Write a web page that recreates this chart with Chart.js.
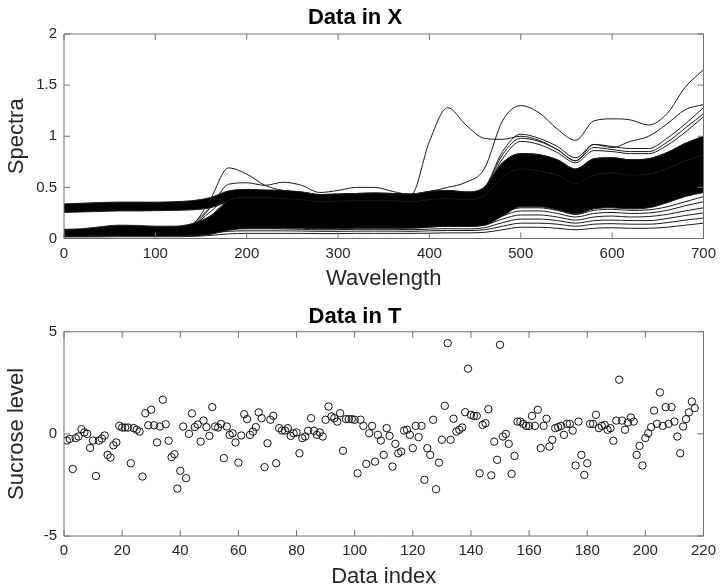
<!DOCTYPE html>
<html>
<head>
<meta charset="utf-8">
<title>Data in X / Data in T</title>
<script src="https://cdn.jsdelivr.net/npm/chart.js@4.4.1/dist/chart.umd.min.js"></script>
<style>
    html, body { margin: 0; padding: 0; background: #fff; }
    #wrap { position: relative; width: 722px; height: 588px; }
    canvas { position: absolute; left: 0; }
    #spectraChart { top: 0; }
    #sucroseChart { top: 295px; }
</style>
</head>
<body>
<div id="wrap">
    <canvas id="spectraChart" width="722" height="295"></canvas>
    <canvas id="sucroseChart" width="722" height="293"></canvas>
</div>
<script>
// wavelength grid of the spectra (read every 20 units)
const wavelengths = [0, 20, 40, 60, 80, 100, 120, 140, 160, 180, 200, 220, 240, 260, 280, 300, 320, 340,
    360, 380, 400, 420, 440, 460, 480, 500, 520, 540, 560, 580, 600, 620, 640, 660, 680, 700];

// edges of the dense bundle of spectra
const bandLow = [.02, .02, .022, .025, .025, .025, .025, .027, .04, .08, .10, .10, .10, .10, .095, .095, .10, .10,
    .10, .10, .11, .12, .12, .13, .22, .31, .31, .28, .24, .29, .30, .29, .30, .35, .41, .45];
const lowerTop = [.09, .095, .115, .13, .128, .12, .12, .145, .22, .37, .40, .40, .39, .38, .36, .365, .37, .37,
    .37, .36, .38, .39, .38, .42, .60, .68, .66, .62, .54, .62, .64, .62, .63, .68, .76, .82];
const upperLow = [.255, .26, .265, .27, .27, .272, .275, .28, .30, .36, .38, .38, .375, .37, .35, .355, .36, .36,
    .36, .355, .37, .38, .37, .40, .55, .62, .60, .55, .48, .55, .57, .55, .56, .60, .66, .72];
const bandTop = [.338, .345, .352, .356, .356, .355, .36, .37, .40, .465, .48, .475, .47, .455, .43, .435, .44, .445,
    .44, .435, .46, .47, .455, .50, .74, .83, .82, .77, .68, .78, .79, .77, .78, .84, .93, 1.0];

// single spectra below the bundle
const stripe1 = [.015, .015, .016, .018, .018, .018, .018, .02, .03, .045, .05, .05, .05, .05, .048, .048, .05, .05,
    .05, .05, .052, .055, .055, .06, .085, .11, .11, .10, .085, .10, .105, .10, .10, .11, .13, .15];
const stripe2 = [.03, .03, .035, .04, .04, .04, .04, .045, .055, .07, .075, .075, .075, .073, .07, .07, .072, .072,
    .072, .07, .075, .078, .078, .085, .12, .15, .15, .14, .12, .14, .145, .14, .14, .155, .18, .20];
const stripe3 = [.04, .04, .045, .05, .05, .05, .05, .055, .07, .09, .095, .095, .094, .09, .085, .086, .09, .09,
    .09, .086, .092, .096, .094, .105, .155, .19, .19, .175, .15, .175, .18, .175, .175, .195, .225, .25];
const stripe4 = [.05, .05, .055, .06, .06, .06, .06, .065, .08, .11, .12, .12, .115, .11, .105, .106, .11, .11,
    .11, .106, .115, .12, .117, .13, .19, .23, .23, .21, .18, .21, .22, .21, .215, .235, .27, .30];
const stripe5 = [.06, .06, .065, .07, .07, .07, .07, .075, .09, .13, .14, .14, .135, .13, .122, .125, .13, .13,
    .13, .125, .135, .14, .135, .15, .22, .27, .27, .245, .21, .245, .255, .245, .25, .275, .32, .36];
const stripe6 = [.07, .07, .075, .08, .08, .08, .08, .085, .10, .15, .16, .16, .155, .15, .14, .145, .15, .15,
    .15, .145, .155, .16, .155, .175, .25, .30, .30, .275, .235, .275, .285, .275, .28, .31, .36, .41];

// spectra crossing the gap near 160
const cross1 = [.06, .06, .07, .09, .09, .09, .10, .14, .30, .42, .44, .44, .435, .425, .40, .405, .41, .41,
    .41, .40, .42, .43, .42, .46, .68, .76, .75, .71, .62, .71, .73, .71, .72, .78, .86, .93];
const cross2 = [.05, .05, .06, .08, .08, .08, .09, .12, .26, .40, .42, .42, .415, .405, .38, .385, .39, .39,
    .39, .38, .40, .41, .40, .44, .64, .72, .71, .67, .58, .67, .69, .67, .68, .73, .81, .88];

// spectra standing out above the bundle
const peak180 = [.05, .05, .06, .08, .08, .08, .09, .13, .38, .69, .63, .52, .47, .455, .43, .435, .44, .445,
    .44, .435, .46, .47, .455, .50, .74, .83, .82, .77, .68, .78, .79, .77, .78, .84, .93, 1.0];
const peak420 = [.07, .07, .08, .10, .10, .10, .11, .13, .30, .53, .545, .52, .55, .52, .45, .47, .50, .50,
    .46, .43, .95, 1.28, 1.11, .98, .97, 1.0, .96, .87, .76, .92, .89, .95, 1.0, 1.12, 1.26, 1.31];
const peak500 = [.32, .325, .33, .335, .335, .335, .34, .35, .38, .45, .47, .465, .46, .45, .425, .43, .435, .44,
    .435, .43, .46, .50, .55, .68, 1.15, 1.30, 1.23, 1.07, .96, 1.15, 1.17, 1.16, 1.11, 1.22, 1.48, 1.65];
const rise1 = [.33, .335, .34, .345, .345, .345, .35, .36, .39, .46, .475, .47, .465, .45, .425, .43, .435, .44,
    .435, .43, .455, .465, .45, .50, .85, 1.02, .98, .90, .79, .92, .90, .88, .88, .98, 1.12, 1.28];
const rise2 = [.32, .325, .33, .335, .335, .335, .34, .35, .385, .455, .47, .465, .46, .445, .42, .425, .43, .435,
    .43, .425, .45, .46, .445, .49, .82, .98, .95, .87, .76, .89, .87, .85, .85, .94, 1.08, 1.22];
const rise3 = [.31, .315, .32, .325, .325, .325, .33, .34, .38, .45, .465, .46, .455, .44, .415, .42, .425, .43,
    .425, .42, .445, .455, .44, .48, .78, .95, .92, .84, .74, .86, .85, .83, .83, .91, 1.04, 1.19];

// sucrose level for each sample (data index 1..217)
const sucrose = [
    -0.33, -0.25, -1.72, -0.21, -0.13, 0.23, 0.07, 0.00, -0.69, -0.33,
    -2.06, -0.33, -0.23, -0.08, -1.03, -1.16, -0.56, -0.42, 0.39, 0.31,
    0.31, 0.31, -1.44, 0.28, 0.20, 0.11, -2.09, 1.01, 0.42, 1.18,
    0.42, -0.42, 0.36, 1.67, 0.47, -0.34, -1.14, -1.00, -2.68, -1.81,
    0.36, -2.17, 0.00, 1.00, 0.33, 0.46, -0.38, 0.65, 0.33, -0.10,
    1.31, 0.36, 0.31, 0.49, -1.19, 0.36, -0.05, 0.03, -0.42, -1.41,
    -0.08, 0.96, 0.72, -0.05, 0.11, 0.33, 1.05, 0.77, -1.63, -0.46,
    0.69, 0.88, -1.44, 0.28, 0.16, 0.16, 0.28, -0.10, 0.03, 0.07,
    -0.95, -0.21, -0.13, 0.15, 0.77, 0.15, -0.05, 0.07, -0.13, 0.69,
    1.34, 0.85, 0.77, 0.60, 1.01, -0.83, 0.72, 0.72, 0.72, 0.69,
    -1.93, 0.69, 0.39, -1.47, 0.03, 0.39, -1.36, -0.05, -0.33, -1.03,
    0.28, -0.10, -1.60, -0.49, -0.95, -0.87, 0.16, 0.20, -0.05, -0.70,
    0.39, -0.16, 0.39, -2.25, -0.70, -1.03, 0.69, -2.71, -1.41, -0.29,
    1.37, 4.44, -0.29, 0.74, 0.11, 0.20, 0.31, 1.06, 3.19, 0.93,
    0.88, 0.88, -1.93, 0.44, 0.52, 1.21, -2.03, -0.38, -1.27, 4.36,
    -0.13, 0.00, -0.49, -1.96, -1.08, 0.60, 0.60, 0.49, 0.39, 0.39,
    0.88, 0.39, 1.18, -0.70, 0.39, 0.74, -0.62, -0.29, 0.28, 0.33,
    0.39, -0.05, 0.49, 0.49, 0.16, -1.55, 0.60, -1.03, -2.01, -1.44,
    0.49, 0.49, 0.93, 0.28, 0.39, 0.44, 0.20, 0.28, -0.34, 0.65,
    2.65, 0.65, 0.20, 0.56, 0.80, 0.60, -1.03, -0.59, -1.55, -0.21,
    0.03, 0.33, 1.14, 0.49, 2.03, 0.39, 1.31, 0.49, 1.31, 0.60,
    -0.13, -0.95, 0.36, 0.72, 1.05, 1.58, 1.26
];

const TEXT_COLOR = '#262626';
const BOX_COLOR = '#707070';

Chart.defaults.font.family = '"Liberation Sans", Arial, Helvetica, sans-serif';

/**
 * box round the plot with inward tick marks on all four sides (MATLAB look)
 */
const boxTicks = {
    id: 'boxTicks',
    afterDraw(chart) {
        const { ctx, chartArea: a } = chart;
        const x = chart.scales.x;
        const y = chart.scales.y;
        const len = 6;
        ctx.save();
        ctx.strokeStyle = BOX_COLOR;
        ctx.lineWidth = 1;
        ctx.beginPath();
        ctx.rect(a.left, a.top, a.right - a.left, a.bottom - a.top);
        x.ticks.forEach(t => {
            const px = x.getPixelForValue(t.value);
            ctx.moveTo(px, a.bottom);
            ctx.lineTo(px, a.bottom - len);
            ctx.moveTo(px, a.top);
            ctx.lineTo(px, a.top + len);
        });
        y.ticks.forEach(t => {
            const py = y.getPixelForValue(t.value);
            ctx.moveTo(a.left, py);
            ctx.lineTo(a.left + len, py);
            ctx.moveTo(a.right, py);
            ctx.lineTo(a.right - len, py);
        });
        ctx.stroke();
        ctx.restore();
    }
};

document.addEventListener('DOMContentLoaded', function() {
    createSpectraChart();
    createSucroseChart();
});

function axisOptions(min, max, step, label, isX, size) {
    return {
        type: 'linear',
        min: min,
        max: max,
        ticks: {
            stepSize: step,
            color: TEXT_COLOR,
            font: { size: 15 },
            padding: isX ? 6 : 7,
            maxRotation: 0,
            autoSkip: false,
            // plain numbers like MATLAB: 0, 0.5, 1, 1.5, 2
            callback: value => String(value)
        },
        grid: { display: false, drawTicks: false },
        border: { display: false },
        title: {
            display: true,
            text: label,
            color: TEXT_COLOR,
            font: { size: 22, lineHeight: 1 },
            padding: isX ? { top: 0, bottom: size.titlePad } : { top: 6, bottom: 0 }
        },
        afterFit: function(scale) {
            if (isX) scale.height = size.height;
            else scale.width = 64;
        }
    };
}

function toPoints(values) {
    return wavelengths.map((w, i) => ({ x: w, y: values[i] }));
}

function spectraLine(values, extra) {
    return Object.assign({
        data: toPoints(values),
        borderColor: '#1a1a1a',
        borderWidth: 1,
        pointRadius: 0,
        cubicInterpolationMode: 'monotone',
        fill: false
    }, extra || {});
}

/**
 * Data in X : spectra
 */
function createSpectraChart() {
    const ctx = document.getElementById('spectraChart');
    const bandFill = { fill: '-1', backgroundColor: '#000' };

    new Chart(ctx, {
        type: 'line',
        data: {
            datasets: [
                spectraLine(bandLow),
                spectraLine(lowerTop, bandFill),
                spectraLine(upperLow),
                spectraLine(bandTop, bandFill),
                spectraLine(stripe1),
                spectraLine(stripe2),
                spectraLine(stripe3),
                spectraLine(stripe4),
                spectraLine(stripe5),
                spectraLine(stripe6),
                spectraLine(cross1),
                spectraLine(cross2),
                spectraLine(peak180),
                spectraLine(peak420),
                spectraLine(peak500),
                spectraLine(rise1),
                spectraLine(rise2),
                spectraLine(rise3)
            ]
        },
        options: {
            responsive: false,
            animation: false,
            devicePixelRatio: 1,
            events: [],
            layout: { padding: { left: 0, right: 12, top: 0, bottom: 0 } },
            plugins: {
                legend: { display: false },
                tooltip: { enabled: false },
                title: {
                    display: true,
                    text: 'Data in X',
                    color: '#000',
                    font: { size: 22, weight: 'bold', lineHeight: 1.2 },
                    padding: { top: 4.3, bottom: 3.3 }
                }
            },
            scales: {
                x: axisOptions(0, 700, 100, 'Wavelength', true, { height: 56.5, titlePad: 5 }),
                y: axisOptions(0, 2, 0.5, 'Spectra', false)
            }
        },
        plugins: [boxTicks]
    });
}

/**
 * Data in T : sucrose level per sample
 */
function createSucroseChart() {
    const ctx = document.getElementById('sucroseChart');
    const points = sucrose.map((v, i) => ({ x: i + 1, y: v }));

    new Chart(ctx, {
        type: 'scatter',
        data: {
            datasets: [{
                data: points,
                pointStyle: 'circle',
                pointRadius: 3.7,
                borderWidth: 1,
                borderColor: '#111',
                backgroundColor: 'rgba(0,0,0,0)'
            }]
        },
        options: {
            responsive: false,
            animation: false,
            devicePixelRatio: 1,
            events: [],
            layout: { padding: { left: 0, right: 12, top: 0, bottom: 0 } },
            plugins: {
                legend: { display: false },
                tooltip: { enabled: false },
                title: {
                    display: true,
                    text: 'Data in T',
                    color: '#000',
                    font: { size: 22, weight: 'bold', lineHeight: 1.2 },
                    padding: { top: 8.3, bottom: 2 }
                }
            },
            scales: {
                x: axisOptions(0, 220, 20, 'Data index', true, { height: 52, titlePad: 0 }),
                y: axisOptions(-5, 5, 5, 'Sucrose level', false)
            }
        },
        plugins: [boxTicks]
    });
}
</script>
</body>
</html>
